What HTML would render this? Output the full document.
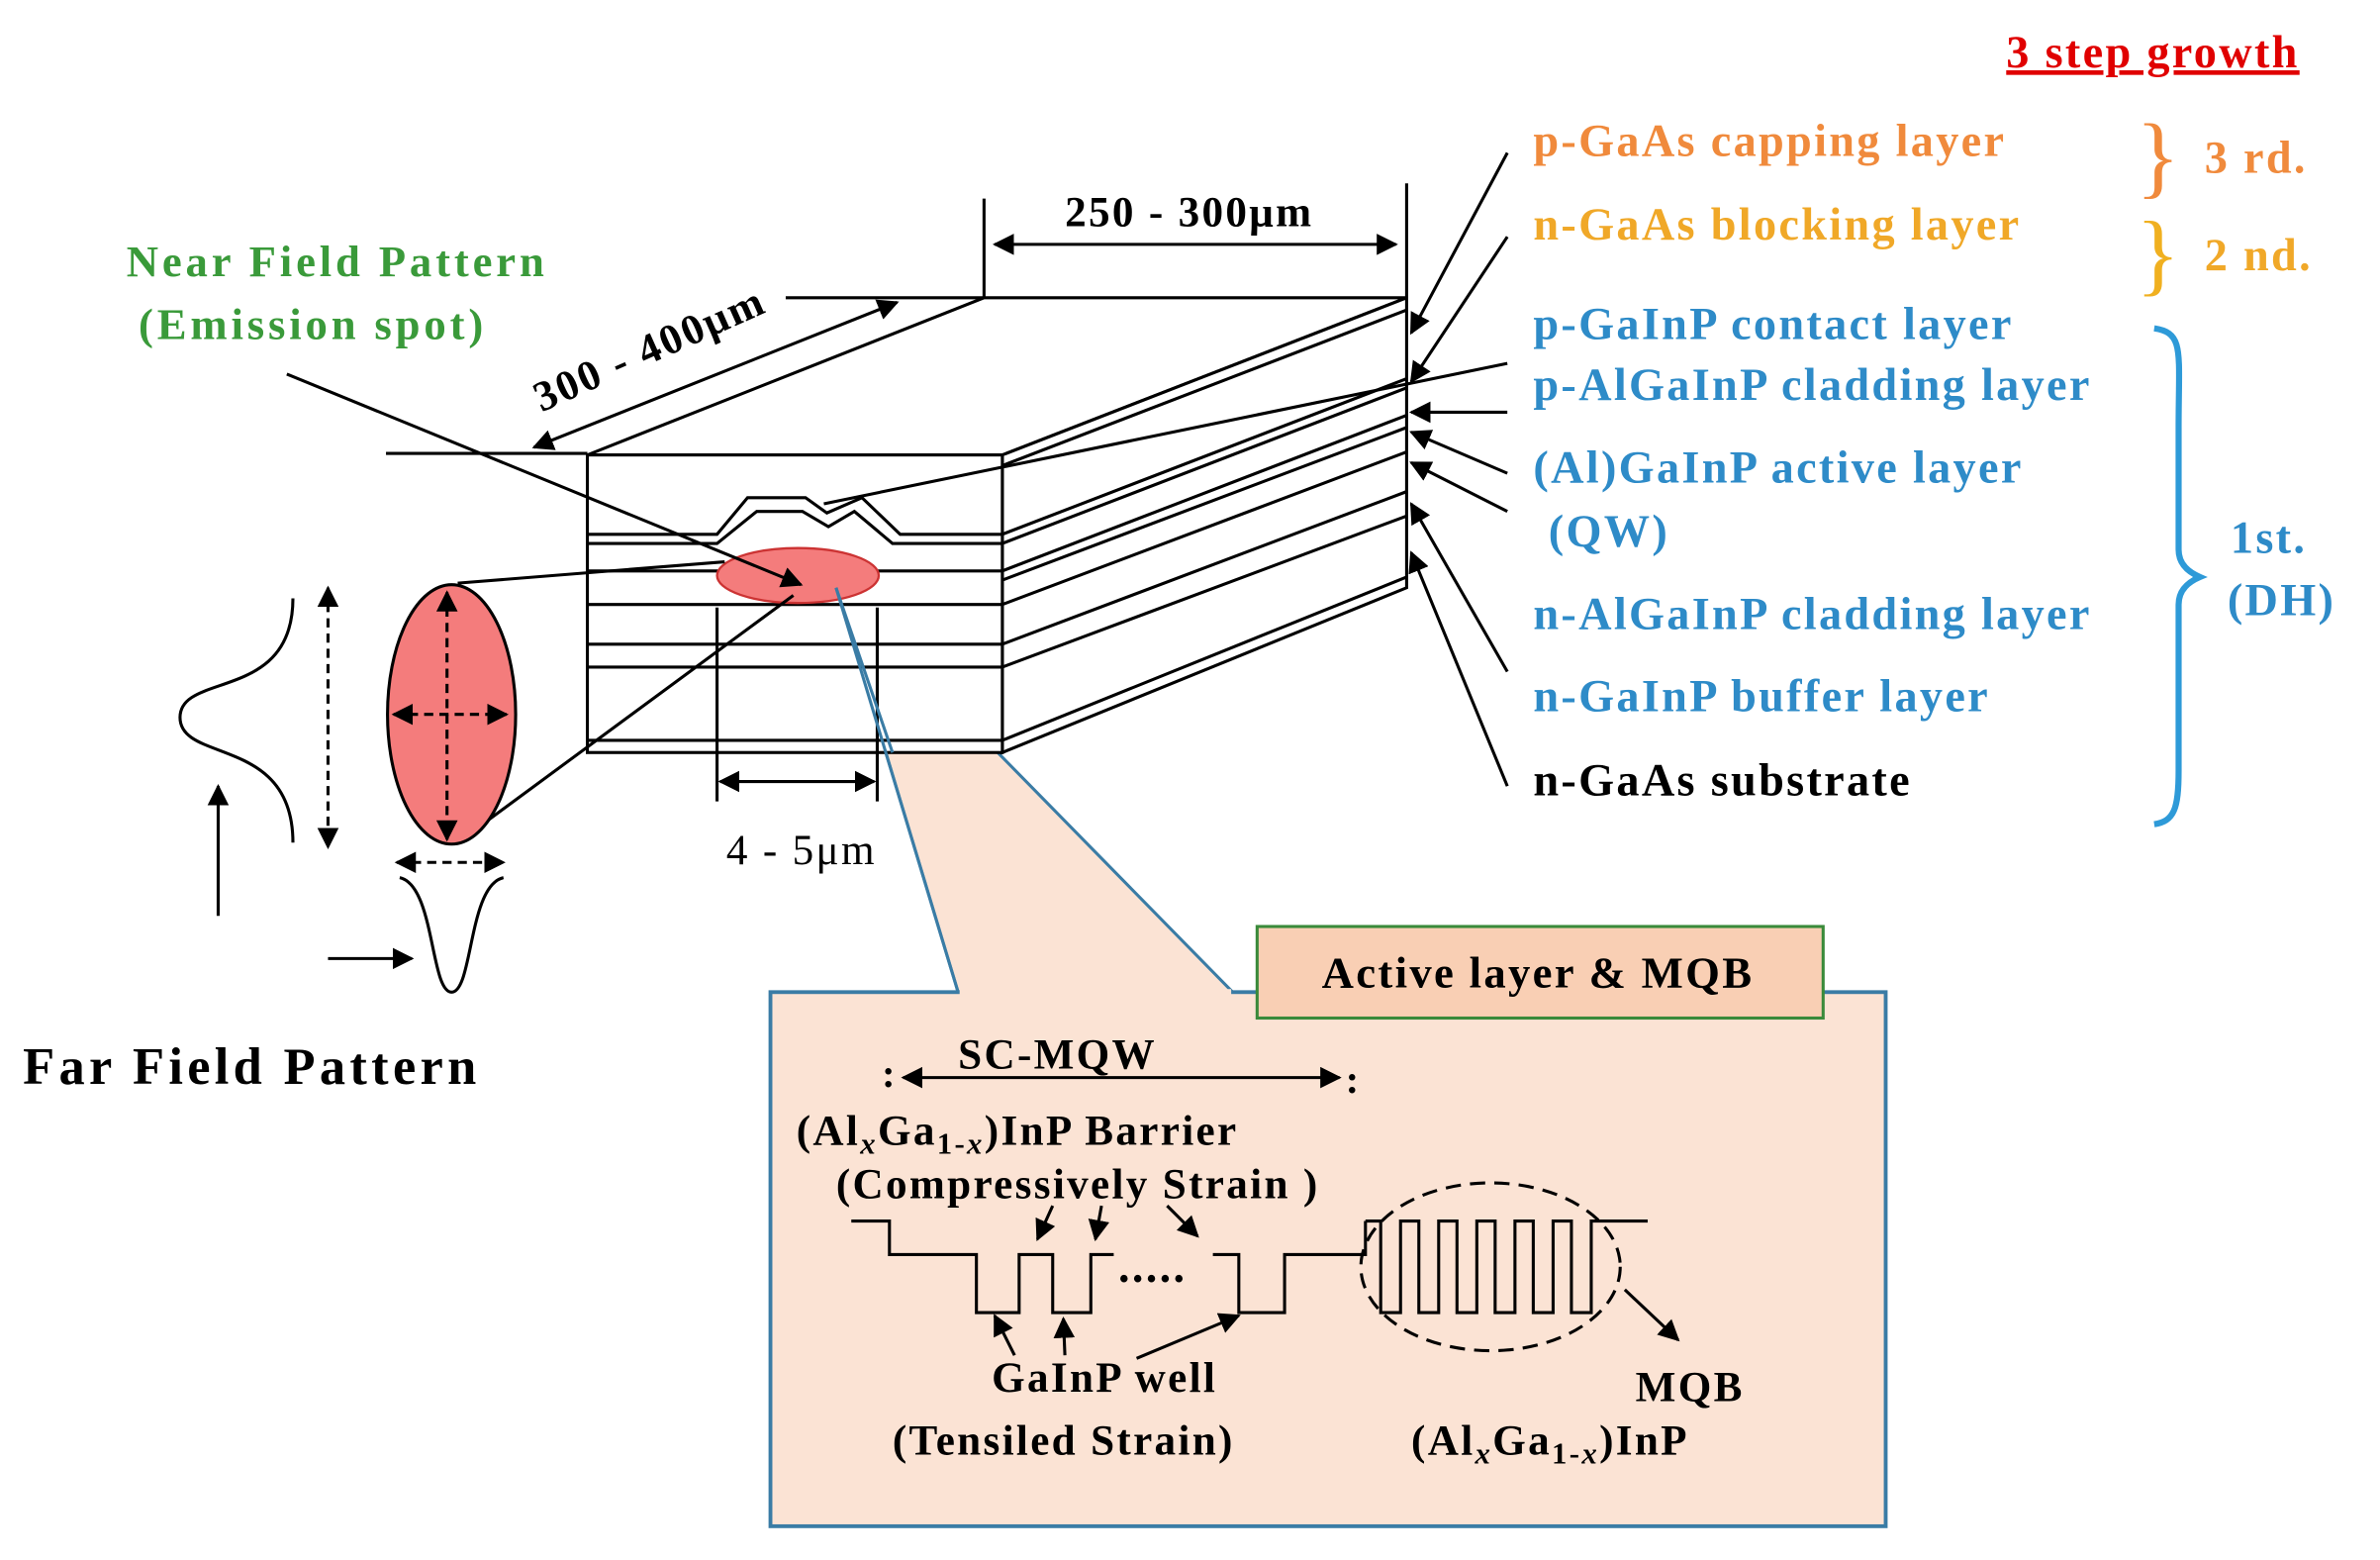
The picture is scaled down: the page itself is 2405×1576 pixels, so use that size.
<!DOCTYPE html>
<html><head><meta charset="utf-8"><style>
html,body{margin:0;padding:0;background:#fff;}
svg{display:block;}
text{font-family:"Liberation Serif",serif;font-weight:bold;letter-spacing:1.5px;}
</style></head><body>
<svg width="2405" height="1576" viewBox="0 0 1560 1022" xmlns="http://www.w3.org/2000/svg">
<defs>
<marker id="a" viewBox="0 0 10 10" refX="9" refY="5" markerWidth="7" markerHeight="7" orient="auto-start-reverse"><path d="M0,0 L10,5 L0,10 z" fill="#000"/></marker>
</defs>
<!-- callout -->
<path d="M548,385 L628,650 L808,650 Z" fill="#fbe3d4" stroke="#3a7ca5" stroke-width="2"/>
<rect x="505" y="650" width="731" height="350" fill="#fbe3d4" stroke="#3a7ca5" stroke-width="2.5"/>
<line x1="629" y1="650" x2="807" y2="650" stroke="#fbe3d4" stroke-width="4"/>
<rect x="824" y="607" width="371" height="60" fill="#f9cfb4" stroke="#3a8a3a" stroke-width="2"/>
<text x="1008" y="647" font-size="29" text-anchor="middle">Active layer &amp; MQB</text>

<!-- box -->
<g stroke="#000" stroke-width="2" fill="none">
<path d="M385,298 L645,195 L922,195 L657,298 Z" fill="#fff"/>
<path d="M657,298 L922,195 L922,385 L657,493 Z" fill="#fff"/>
<rect x="385" y="298" width="272" height="195" fill="#fff"/>
<path d="M385,350 L470,350 L490,326 L528,326 L542,336 L565,326 L590,350 L657,350"/>
<path d="M385,356 L470,356 L496,335 L526,335 L543,345 L560,335 L585,356 L657,356"/>
<line x1="385" y1="374" x2="657" y2="374"/><line x1="385" y1="396" x2="657" y2="396"/>
<line x1="385" y1="422" x2="657" y2="422"/><line x1="385" y1="437" x2="657" y2="437"/>
<line x1="385" y1="485" x2="657" y2="485"/>
<line x1="657" y1="305" x2="922" y2="203"/><line x1="657" y1="350" x2="922" y2="248"/>
<line x1="657" y1="356" x2="922" y2="254"/><line x1="657" y1="374" x2="922" y2="272"/>
<line x1="657" y1="380" x2="922" y2="280"/><line x1="657" y1="396" x2="922" y2="296"/>
<line x1="657" y1="422" x2="922" y2="322"/><line x1="657" y1="437" x2="922" y2="338"/>
<line x1="657" y1="485" x2="922" y2="378"/>
<line x1="470" y1="398" x2="470" y2="525"/><line x1="575" y1="398" x2="575" y2="525"/>
<line x1="253" y1="297" x2="385" y2="297"/><line x1="515" y1="195" x2="645" y2="195"/>
<line x1="645" y1="130" x2="645" y2="195"/><line x1="922" y1="120" x2="922" y2="195"/>
</g>
<ellipse cx="523" cy="377" rx="53" ry="18" fill="#f47c7c" stroke="#c33" stroke-width="1.5"/>
<line x1="548" y1="385" x2="628" y2="650" stroke="#3a7ca5" stroke-width="2"/>
<line x1="548" y1="385" x2="585" y2="493" stroke="#3a7ca5" stroke-width="2"/>
<g stroke="#000" stroke-width="2" fill="none">
<line x1="652" y1="160" x2="915" y2="160" marker-start="url(#a)" marker-end="url(#a)"/>
<line x1="350" y1="293" x2="588" y2="198" marker-start="url(#a)" marker-end="url(#a)"/>
<line x1="472" y1="512" x2="573" y2="512" marker-start="url(#a)" marker-end="url(#a)"/>
<line x1="188" y1="245" x2="525" y2="383" marker-end="url(#a)"/>
<line x1="300" y1="382" x2="475" y2="368"/><line x1="300" y1="552" x2="520" y2="390"/>
<line x1="988" y1="100" x2="925" y2="218" marker-end="url(#a)"/>
<line x1="988" y1="155" x2="925" y2="250" marker-end="url(#a)"/>
<line x1="988" y1="238" x2="540" y2="330"/>
<line x1="988" y1="270" x2="925" y2="270" marker-end="url(#a)"/>
<line x1="988" y1="310" x2="925" y2="283" marker-end="url(#a)"/>
<line x1="988" y1="335" x2="925" y2="303" marker-end="url(#a)"/>
<line x1="988" y1="440" x2="925" y2="330" marker-end="url(#a)"/>
<line x1="988" y1="515" x2="925" y2="362" marker-end="url(#a)"/>
</g>
<text x="355" y="270" font-size="28" transform="rotate(-24 355 270)">300 - 400μm</text>
<text x="698" y="148" font-size="28">250 - 300μm</text>
<text x="476" y="566" font-size="28" style="font-weight:normal">4 - 5μm</text>
<text x="221" y="181" font-size="29" fill="#3a9a3a" text-anchor="middle" style="letter-spacing:2.5px">Near Field Pattern</text>
<text x="205" y="222" font-size="29" fill="#3a9a3a" text-anchor="middle" style="letter-spacing:2.5px">(Emission spot)</text>

<!-- far field -->
<ellipse cx="296" cy="468" rx="42" ry="85" fill="#f47c7c" stroke="#000" stroke-width="2"/>
<g stroke="#000" stroke-width="2" fill="none">
<line x1="293" y1="388" x2="293" y2="550" stroke-dasharray="6,4" marker-start="url(#a)" marker-end="url(#a)"/>
<line x1="258" y1="468" x2="332" y2="468" stroke-dasharray="6,4" marker-start="url(#a)" marker-end="url(#a)"/>
<line x1="215" y1="385" x2="215" y2="555" stroke-dasharray="6,4" marker-start="url(#a)" marker-end="url(#a)"/>
<line x1="260" y1="565" x2="330" y2="565" stroke-dasharray="6,4" marker-start="url(#a)" marker-end="url(#a)"/>
<path d="M192,392 C192,460 118,440 118,470 C118,500 192,482 192,552"/>
<path d="M262,575 C285,580 282,650 296,650 C310,650 307,580 330,575"/>
<line x1="143" y1="600" x2="143" y2="515" marker-end="url(#a)"/>
<line x1="215" y1="628" x2="270" y2="628" marker-end="url(#a)"/>
</g>
<text x="15" y="710" font-size="34" style="letter-spacing:2.8px">Far Field Pattern</text>

<!-- right labels -->
<g font-size="30" style="letter-spacing:2.6px">
<text x="1005" y="102" fill="#f08a3c">p-GaAs capping layer</text>
<text x="1005" y="157" fill="#f0a828">n-GaAs blocking layer</text>
<text x="1005" y="222" fill="#2e8bc8">p-GaInP contact layer</text>
<text x="1005" y="262" fill="#2e8bc8">p-AlGaInP cladding layer</text>
<text x="1005" y="316" fill="#2e8bc8">(Al)GaInP active layer</text>
<text x="1015" y="358" fill="#2e8bc8">(QW)</text>
<text x="1005" y="412" fill="#2e8bc8">n-AlGaInP cladding layer</text>
<text x="1005" y="466" fill="#2e8bc8">n-GaInP buffer layer</text>
<text x="1005" y="521" fill="#000">n-GaAs substrate</text>
<text x="1445" y="113" fill="#f08a3c">3 rd.</text>
<text x="1445" y="177" fill="#f0a828">2 nd.</text>
<text x="1462" y="362" fill="#2e8bc8">1st.</text>
<text x="1460" y="403" fill="#2e8bc8">(DH)</text>
<text x="1315" y="44" fill="#e00000" text-decoration="underline" style="letter-spacing:1.5px">3 step growth</text>
</g>
<text x="1400" y="122" font-size="60" fill="#f08a3c" style="font-weight:normal">}</text>
<text x="1400" y="186" font-size="60" fill="#f0b020" style="font-weight:normal">}</text>
<path d="M1412,215 C1432,218 1428,230 1428,280 L1428,360 C1428,370 1435,375 1442,378 C1435,381 1428,386 1428,396 L1428,505 C1428,530 1425,538 1412,540" fill="none" stroke="#2e9ad8" stroke-width="4"/>

<!-- inset content -->
<g font-size="28" style="letter-spacing:1.8px">
<text x="628" y="700">SC-MQW</text>
<text x="522" y="750">(Al<tspan font-style="italic" font-size="20" dy="6">x</tspan><tspan dy="-6">Ga</tspan><tspan font-size="20" dy="6">1-<tspan font-style="italic">x</tspan></tspan><tspan dy="-6">)InP Barrier</tspan></text>
<text x="548" y="785">(Compressively Strain )</text>
<text x="650" y="912">GaInP well</text>
<text x="585" y="953">(Tensiled Strain)</text>
<text x="1072" y="918">MQB</text>
<text x="925" y="953">(Al<tspan font-style="italic" font-size="20" dy="6">x</tspan><tspan dy="-6">Ga</tspan><tspan font-size="20" dy="6">1-<tspan font-style="italic">x</tspan></tspan><tspan dy="-6">)InP</tspan></text>
<text x="733" y="840" font-size="30">.....</text>
<text x="578" y="712" font-size="26">:</text>
<text x="882" y="716" font-size="26">:</text>
</g>
<g stroke="#000" stroke-width="2" fill="none">
<line x1="592" y1="706" x2="878" y2="706" marker-start="url(#a)" marker-end="url(#a)"/>
<path d="M558,800 L583,800 L583,822 L640,822 L640,860 L668,860 L668,822 L690,822 L690,860 L715,860 L715,822 L730,822"/>
<path d="M795,822 L812,822 L812,860 L842,860 L842,822 L895,822 L895,800"/>
<path d="M895,800 L905,800 L905,860 L918,860 L918,800 L930,800 L930,860 L943,860 L943,800 L955,800 L955,860 L968,860 L968,800 L980,800 L980,860 L993,860 L993,800 L1005,800 L1005,860 L1018,860 L1018,800 L1030,800 L1030,860 L1043,860 L1043,800 L1080,800"/>
<ellipse cx="977" cy="830" rx="85" ry="55" stroke-dasharray="10,6"/>
<line x1="1065" y1="845" x2="1100" y2="878" marker-end="url(#a)"/>
<line x1="690" y1="790" x2="680" y2="812" marker-end="url(#a)"/>
<line x1="722" y1="790" x2="718" y2="812" marker-end="url(#a)"/>
<line x1="765" y1="790" x2="785" y2="810" marker-end="url(#a)"/>
<line x1="665" y1="888" x2="652" y2="862" marker-end="url(#a)"/>
<line x1="698" y1="888" x2="697" y2="864" marker-end="url(#a)"/>
<line x1="745" y1="890" x2="812" y2="862" marker-end="url(#a)"/>
</g>
</svg>
</body></html>
